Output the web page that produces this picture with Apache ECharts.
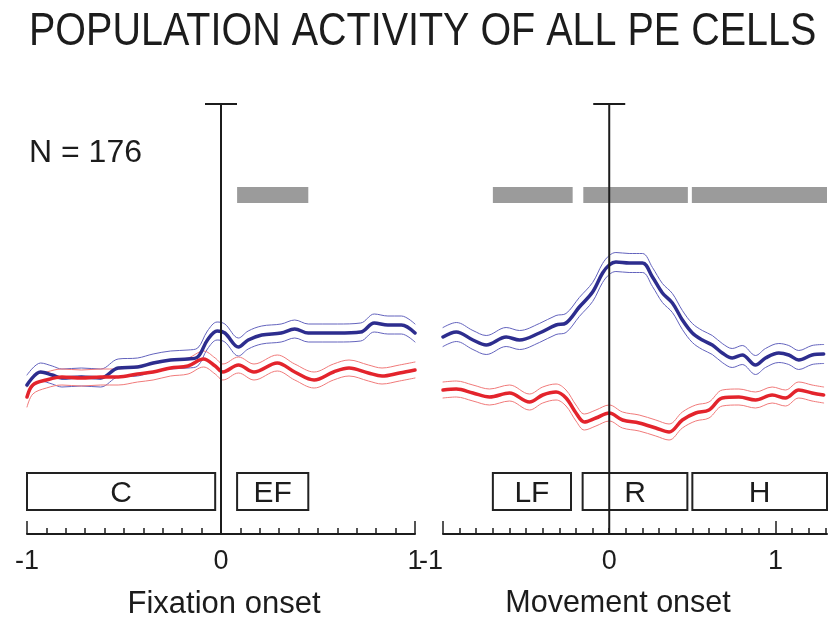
<!DOCTYPE html>
<html><head><meta charset="utf-8">
<script src="https://cdn.jsdelivr.net/npm/echarts@6/dist/echarts.min.js"></script>
<style>html,body{margin:0;padding:0;background:#fff}#c{width:837px;height:623px}</style>
</head><body><div id="c"></div>
<script>
// ---------------- data ----------------
const titleText = 'POPULATION ACTIVITY OF ALL PE CELLS';
const nText = 'N = 176';
const leftAxisName = 'Fixation onset';
const rightAxisName = 'Movement onset';

const leftTickLabels = [-1, 0, 1];
const rightTickLabels = [-1, 0, 1];
const leftMajorTicks = [-1, 1];
const rightMajorTicks = [-1, 1];
const leftMinorTicks = [-0.9,-0.8,-0.7,-0.6,-0.5,-0.4,-0.3,-0.2,-0.1,0,0.1,0.2,0.3,0.4,0.5,0.6,0.7,0.8,0.9];
const rightMinorTicks = [-0.9,-0.8,-0.7,-0.6,-0.5,-0.4,-0.3,-0.2,-0.1,0,0.1,0.2,0.3,0.4,0.5,0.6,0.7,0.8,0.9,1.1,1.2,1.3];
const eventTimes = [0];

// Fixation-aligned panel
const leftBlueT = [-1.00,-0.93,-0.87,-0.82,-0.72,-0.62,-0.53,-0.43,-0.35,-0.26,-0.17,-0.12,-0.07,-0.02,0.02,0.09,0.14,0.21,0.31,0.38,0.45,0.60,0.72,0.79,0.86,0.93,1.00];
const leftBlueMean = [14.9,16.2,15.9,15.6,15.7,15.6,16.6,16.7,17.1,17.4,17.5,17.7,19.4,20.3,20.1,18.7,19.4,19.9,20.1,20.5,20.1,20.1,20.2,21.1,20.9,20.9,20.1];
const leftBlueSem = [1.0,0.9,0.9,0.9,0.9,0.9,0.9,0.9,0.9,0.9,0.9,0.9,0.9,0.9,0.9,0.9,0.9,0.9,0.9,0.9,0.9,0.9,0.9,0.9,0.9,0.9,0.9];
const leftRedT = [-1.00,-0.97,-0.90,-0.82,-0.72,-0.62,-0.53,-0.43,-0.35,-0.26,-0.17,-0.09,-0.03,0.01,0.09,0.17,0.29,0.38,0.48,0.58,0.66,0.76,0.83,0.92,1.00];
const leftRedMean = [13.7,14.9,15.4,15.7,15.6,15.7,15.7,16.0,16.2,16.6,16.8,17.5,16.8,16.2,16.9,16.2,17.1,16.2,15.4,16.2,16.6,16.1,15.8,16.1,16.4];
const leftRedSem = [1.0,0.9,0.8,0.8,0.8,0.8,0.8,0.8,0.8,0.8,0.8,0.8,0.8,0.8,0.8,0.8,0.8,0.8,0.8,0.8,0.8,0.8,0.8,0.8,0.8];

// Movement-aligned panel
const rightBlueT = [-1.00,-0.92,-0.82,-0.74,-0.62,-0.54,-0.42,-0.32,-0.26,-0.18,-0.10,-0.04,0.00,0.04,0.12,0.20,0.26,0.32,0.38,0.44,0.50,0.56,0.62,0.68,0.74,0.80,0.88,0.94,1.02,1.08,1.14,1.22,1.29];
const rightBlueMean = [19.7,20.2,19.4,18.9,19.7,19.4,20.1,20.9,21.1,22.7,24.2,26.1,26.9,27.2,27.1,27.1,25.7,24.1,23.1,21.4,20.1,19.4,18.9,18.1,17.6,17.9,16.9,17.6,18.1,17.9,17.4,17.9,18.0];
const rightBlueSem = [0.95,0.95,0.95,0.95,0.95,0.95,0.95,0.95,0.95,0.95,0.95,0.95,0.95,0.95,0.95,0.95,0.95,0.95,0.95,0.95,0.95,0.95,0.95,0.95,0.95,0.95,0.95,0.95,0.95,0.95,0.95,0.95,0.95];
const rightRedT = [-1.00,-0.92,-0.82,-0.72,-0.60,-0.48,-0.40,-0.32,-0.26,-0.20,-0.15,-0.08,0.00,0.08,0.18,0.28,0.36,0.44,0.52,0.60,0.68,0.78,0.88,0.98,1.06,1.14,1.22,1.29];
const rightRedMean = [14.4,14.5,14.1,13.7,14.1,13.2,13.9,14.2,13.6,12.1,11.2,11.6,12.1,11.4,11.1,10.6,10.2,11.4,12.1,12.4,13.6,13.7,13.4,13.9,13.6,14.4,14.1,13.9];
const rightRedSem = [0.8,0.8,0.8,0.8,0.8,0.8,0.8,0.8,0.8,0.8,0.8,0.8,0.8,0.8,0.8,0.8,0.8,0.8,0.8,0.8,0.8,0.8,0.8,0.8,0.8,0.8,0.8,0.8];

// Epoch windows and significance bars
const leftEpochs = [[-1.0, -0.03, 'C'], [0.083, 0.45, 'EF']];
const rightEpochs = [[-0.70, -0.23, 'LF'], [-0.16, 0.47, 'R'], [0.50, 1.31, 'H']];
const leftSig = [[0.083, 0.45]];
const rightSig = [[-0.70, -0.22], [-0.156, 0.473], [0.497, 1.31]];

// ---------------- chart ----------------
const FONT = '"Liberation Sans", Arial, Helvetica, sans-serif';
const INK = '#1c1c1c';
const Y_MAX = 43;
const BLUE = '#2d2d8e', BLUE_SEM = '#6363bd';
const RED = '#e3242c', RED_SEM = '#f07a7a';

function pairs(t, v) { return t.map((x, i) => [x, v[i]]); }
function band(t, m, s, sign) { return t.map((x, i) => [x, Math.round((m[i] + sign * s[i]) * 100) / 100]); }

function lineS(xi, data, color, width, z) {
  return { type: 'line', xAxisIndex: xi, yAxisIndex: xi === 0 ? 0 : 1, data, smooth: 0.35,
    showSymbol: false, symbol: 'none', silent: true, z,
    lineStyle: { color, width, cap: 'round', join: 'round' } };
}

function boxSeries(xi, epochs) {
  return { type: 'custom', xAxisIndex: xi, yAxisIndex: xi === 0 ? 0 : 1, data: epochs.map(e => [e[0], e[1]]),
    silent: true, z: 6, encode: { x: [0, 1] },
    renderItem(params, api) {
      const p0 = api.coord([api.value(0), 6.1]);
      const p1 = api.coord([api.value(1), 2.4]);
      return { type: 'group', children: [
        { type: 'rect', shape: { x: p0[0], y: p0[1], width: p1[0] - p0[0], height: p1[1] - p0[1] },
          style: { fill: '#fff', stroke: '#222', lineWidth: 2 } },
        { type: 'text', style: { text: epochs[params.dataIndex][2], x: (p0[0] + p1[0]) / 2, y: (p0[1] + p1[1]) / 2 + 2,
          align: 'center', verticalAlign: 'middle', font: '30px ' + FONT, fill: INK } }
      ] };
    } };
}

function sigSeries(xi, bars) {
  return { type: 'custom', xAxisIndex: xi, yAxisIndex: xi === 0 ? 0 : 1, data: bars, silent: true, z: 6,
    encode: { x: [0, 1] },
    renderItem(params, api) {
      const p0 = api.coord([api.value(0), 34.7]);
      const p1 = api.coord([api.value(1), 33.1]);
      return { type: 'rect', shape: { x: p0[0], y: p0[1], width: p1[0] - p0[0], height: p1[1] - p0[1] },
        style: { fill: '#9b9b9b' } };
    } };
}

function eventSeries(xi) {
  return { type: 'custom', xAxisIndex: xi, yAxisIndex: xi === 0 ? 0 : 1, data: eventTimes.map(t => [t]), silent: true, z: 8,
    encode: { x: 0 },
    renderItem(params, api) {
      const top = api.coord([api.value(0), Y_MAX]);
      const bot = api.coord([api.value(0), 0]);
      return { type: 'group', children: [
        { type: 'line', shape: { x1: top[0], y1: top[1], x2: bot[0], y2: bot[1] }, style: { stroke: '#1c1c1c', lineWidth: 2 } },
        { type: 'line', shape: { x1: top[0] - 16, y1: top[1], x2: top[0] + 16, y2: top[1] }, style: { stroke: '#1c1c1c', lineWidth: 2 } }
      ] };
    } };
}

function mainAxis(gi, max, minor, labels, alignMin) {
  const lbl = { show: true, customValues: labels, margin: 14, fontSize: 27, fontFamily: FONT, color: INK,
    formatter: v => String(v) };
  if (alignMin) lbl.alignMinLabel = alignMin;
  return { type: 'value', gridIndex: gi, min: -1, max, position: 'bottom',
    axisLine: { show: true, onZero: false, lineStyle: { color: '#1c1c1c', width: 2 } },
    axisTick: { show: true, inside: true, length: 6, customValues: minor, lineStyle: { color: '#1c1c1c', width: 1.5 } },
    axisLabel: lbl,
    splitLine: { show: false } };
}
function majorAxis(gi, max, major) {
  return { type: 'value', gridIndex: gi, min: -1, max, position: 'bottom',
    axisLine: { show: false, onZero: false },
    axisTick: { show: true, inside: true, length: 13, customValues: major, lineStyle: { color: '#1c1c1c', width: 1.5 } },
    axisLabel: { show: false }, splitLine: { show: false } };
}

const chart = echarts.init(document.getElementById('c'), null, { renderer: 'canvas' });
chart.setOption({
  animation: false,
  backgroundColor: '#fff',
  grid: [
    { left: 27, right: 422, top: 104, bottom: 89 },
    { left: 443, right: 10, top: 104, bottom: 89 }
  ],
  xAxis: [
    mainAxis(0, 1, leftMinorTicks, leftTickLabels),
    majorAxis(0, 1, leftMajorTicks),
    mainAxis(1, 1.31, rightMinorTicks, rightTickLabels, 'right'),
    majorAxis(1, 1.31, rightMajorTicks)
  ],
  yAxis: [
    { type: 'value', gridIndex: 0, min: 0, max: Y_MAX, show: false },
    { type: 'value', gridIndex: 1, min: 0, max: Y_MAX, show: false }
  ],
  graphic: [
    { type: 'text', x: 29, y: 32, scaleY: 1.16, style: { text: titleText, font: '39.5px ' + FONT, fill: INK, verticalAlign: 'middle' } },
    { type: 'text', x: 29, y: 153, style: { text: nText, font: '32px ' + FONT, fill: INK, verticalAlign: 'middle' } },
    { type: 'text', x: 224, y: 604, style: { text: leftAxisName, font: '31px ' + FONT, fill: INK, align: 'center', verticalAlign: 'middle' } },
    { type: 'text', x: 618, y: 604, style: { text: rightAxisName, font: '30.5px ' + FONT, fill: INK, align: 'center', verticalAlign: 'middle' } }
  ],
  series: [
    // left panel
    lineS(0, band(leftBlueT, leftBlueMean, leftBlueSem, 1), BLUE_SEM, 1, 2),
    lineS(0, band(leftBlueT, leftBlueMean, leftBlueSem, -1), BLUE_SEM, 1, 2),
    lineS(0, band(leftRedT, leftRedMean, leftRedSem, 1), RED_SEM, 1, 2),
    lineS(0, band(leftRedT, leftRedMean, leftRedSem, -1), RED_SEM, 1, 2),
    lineS(0, pairs(leftBlueT, leftBlueMean), BLUE, 3.5, 3),
    lineS(0, pairs(leftRedT, leftRedMean), RED, 3.5, 4),
    boxSeries(0, leftEpochs),
    sigSeries(0, leftSig),
    eventSeries(0),
    // right panel
    lineS(2, band(rightBlueT, rightBlueMean, rightBlueSem, 1), BLUE_SEM, 1, 2),
    lineS(2, band(rightBlueT, rightBlueMean, rightBlueSem, -1), BLUE_SEM, 1, 2),
    lineS(2, band(rightRedT, rightRedMean, rightRedSem, 1), RED_SEM, 1, 2),
    lineS(2, band(rightRedT, rightRedMean, rightRedSem, -1), RED_SEM, 1, 2),
    lineS(2, pairs(rightBlueT, rightBlueMean), BLUE, 3.5, 3),
    lineS(2, pairs(rightRedT, rightRedMean), RED, 3.5, 4),
    boxSeries(2, rightEpochs),
    sigSeries(2, rightSig),
    eventSeries(2)
  ]
});
</script>
</body></html>
